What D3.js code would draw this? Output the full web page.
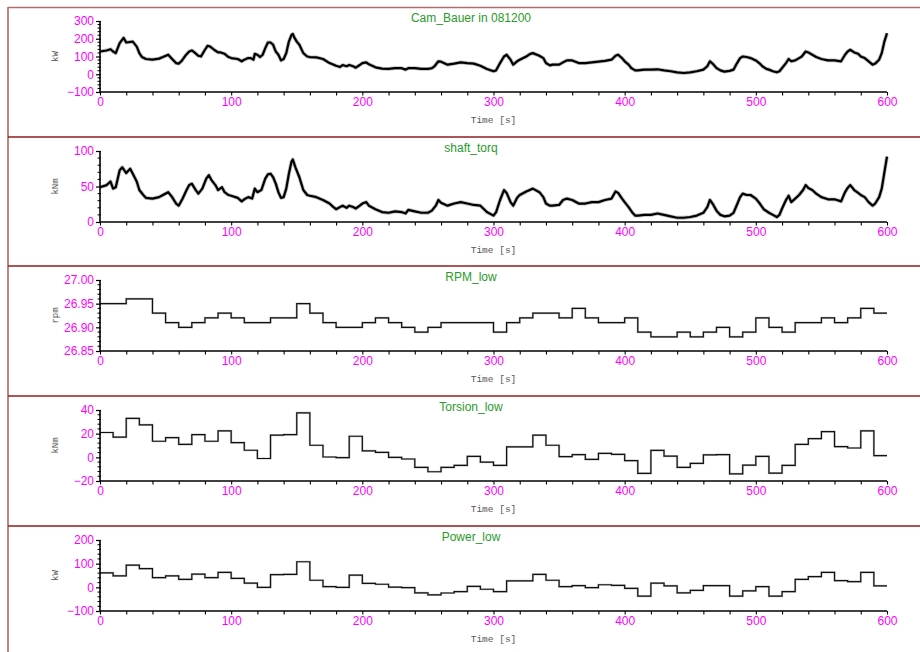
<!DOCTYPE html>
<html>
<head>
<meta charset="utf-8">
<script src="https://cdn.jsdelivr.net/npm/d3@7/dist/d3.min.js"></script>
<style>
  html, body { margin: 0; padding: 0; background: #fff; }
  svg { display: block; }
</style>
</head>
<body>
<svg id="chart" width="920" height="652"></svg>
<script>
// Cam_Bauer power trace [kW]
const camTime  = [0,5,8,10,12,15,18,20,25,28,30,32,35,40,45,48,52,55,58,60,62,65,68,70,72,75,77,80,82,84,87,90,92,95,98,100,105,108,110,113,115,117,118,120,122,124,126,128,130,132,134,136,138,140,142,144,146,147,148,150,152,155,158,160,165,170,175,180,183,185,188,190,193,195,198,200,203,205,210,215,220,225,230,233,235,240,245,250,253,255,258,260,265,270,275,280,285,290,295,300,302,305,308,310,313,315,318,320,325,328,330,335,338,340,343,345,350,353,356,360,365,370,375,380,385,390,393,395,398,400,403,405,408,410,415,420,425,430,435,440,445,450,455,460,463,465,467,470,473,476,480,483,485,488,490,493,496,500,503,505,508,510,513,516,518,520,523,525,527,530,533,535,538,540,543,546,550,555,560,565,568,570,572,575,578,580,583,586,589,591,594,596,598,600];
const camPower = [128,134,141,128,119,175,205,179,184,156,119,97,86,82,88,97,110,86,63,60,73,104,128,134,123,104,100,138,160,156,138,123,123,115,97,91,86,73,82,91,91,82,115,110,97,110,147,179,179,166,128,110,78,86,119,184,222,227,209,184,166,119,100,97,95,86,63,48,41,52,45,52,45,37,52,63,67,56,39,32,30,34,34,26,34,34,30,30,34,45,73,71,54,60,67,63,60,48,30,17,22,63,100,110,82,54,73,82,100,115,119,104,91,63,50,54,54,67,78,78,63,63,67,71,75,82,104,110,91,73,54,35,22,22,26,26,28,22,17,11,7,11,17,26,45,73,60,35,22,15,19,26,54,91,100,97,91,78,60,45,30,26,17,11,17,35,63,86,73,78,91,100,128,123,110,97,86,78,78,73,110,128,138,123,115,100,91,73,54,60,82,119,184,231];

// shaft_torq trace [kNm]
const torqTime  = [0,5,8,10,12,15,17,20,23,25,28,30,33,35,40,45,48,52,55,58,60,63,66,68,70,73,75,78,81,83,85,88,90,93,95,98,100,105,108,110,113,116,118,120,123,126,128,130,132,134,136,138,140,142,144,146,147,149,152,155,158,160,165,170,175,178,180,183,185,188,190,193,195,198,200,203,205,210,215,220,225,230,233,235,240,245,250,253,256,258,260,265,270,275,280,285,290,295,300,302,305,308,310,313,315,318,320,325,330,335,338,340,343,345,350,353,356,360,365,370,375,380,385,390,393,395,398,400,403,406,408,410,415,420,425,430,435,440,445,450,455,460,463,465,467,470,473,476,480,483,486,488,490,493,496,500,503,506,510,513,516,518,520,523,525,527,530,533,536,538,540,543,546,550,555,560,565,568,570,572,575,578,580,583,586,589,591,594,596,598,600];
const torqValue = [49,52,57,47,49,73,77,69,75,68,57,45,38,34,33,35,38,42,35,26,23,33,45,52,54,45,40,47,61,66,59,52,45,49,42,38,37,34,29,32,35,33,47,42,45,61,67,68,63,54,42,34,35,47,68,85,88,77,63,45,38,37,35,31,26,21,18,21,23,20,23,21,19,23,26,28,23,18,14,13,15,14,12,17,15,13,13,16,23,31,27,23,26,28,26,24,23,14,9,14,31,45,41,28,23,34,38,43,47,42,35,26,23,23,24,31,33,31,26,26,28,28,31,33,43,41,33,28,21,13,9,9,10,10,12,10,8,6,6,7,9,13,21,31,26,16,10,8,9,13,26,35,40,38,38,33,26,18,13,10,7,10,19,31,37,28,33,38,45,52,48,45,40,35,32,32,29,42,48,52,45,41,38,35,28,23,26,35,47,70,92];

// 10 s low-rate channels: start of each interval
const lowTime = d3.range(0, 600, 10);
const rpmLow = [26.95,26.95,26.96,26.96,26.93,26.91,26.90,26.91,26.92,26.93,
                26.92,26.91,26.91,26.92,26.92,26.95,26.93,26.91,26.90,26.90,
                26.91,26.92,26.91,26.90,26.89,26.90,26.91,26.91,26.91,26.91,
                26.89,26.91,26.92,26.93,26.93,26.92,26.94,26.92,26.91,26.91,
                26.92,26.89,26.88,26.88,26.89,26.88,26.89,26.90,26.88,26.89,
                26.92,26.90,26.89,26.91,26.91,26.92,26.91,26.92,26.94,26.93];
const torsionLow = [21,17,33,27.5,13.6,16.7,11,19.2,13.6,22.4,
                    12.5,6,-1,18.7,19.2,37.6,10.2,0.3,-0.3,17.8,
                    5.4,4.2,0,-1.4,-8.5,-12.2,-8.5,-6.8,0.8,-4,
                    -6.8,8.8,8.8,18.7,10.2,0.6,2.3,-1.7,3.4,2.5,
                    -2.8,-13.6,5.9,1.1,-8.5,-5.1,2,2.3,-13.9,-6.5,
                    0.8,-13.3,-6.8,11,15.8,21.8,9.1,7.9,22.4,1.4];
const powerLow = [61,48,94,79,41,48,34,56,41,63,
                  38,18,0,54,55,108,30,3,0,52,
                  17,13,1,-1,-23,-32,-24,-18,4,-8,
                  -18,27,27,55,30,3,7,-1,11,8,
                  -4,-37,18,6,-23,-13,7,7,-37,-15,
                  3,-37,-18,34,45,63,28,24,63,6];

// Panel titles, units and y-axis ticks
const titles = ["Cam_Bauer in 081200", "shaft_torq", "RPM_low", "Torsion_low", "Power_low"];
const units  = ["kW", "kNm", "rpm", "kNm", "kW"];
const yTicks = [
  [-100, 0, 100, 200, 300],
  [0, 50, 100],
  [26.85, 26.90, 26.95, 27.00],
  [-20, 0, 20, 40],
  [-100, 0, 100, 200]
];
const xTicks = [0, 100, 200, 300, 400, 500, 600];
const xLabel = "Time [s]";

const svg = d3.select("#chart");
const W = 920, H = 652;
const panelTops = [7, 137, 266, 396, 526];
const plotLeft = 100, plotRight = 887;

const x = d3.scaleLinear().domain([0, 600]).range([plotLeft, plotRight]);

function fmtFor(i) {
  return i === 2 ? d3.format(".2f") : d3.format("d");
}

const series = [
  { kind: "trace", t: camTime, v: camPower },
  { kind: "trace", t: torqTime, v: torqValue },
  { kind: "step", t: lowTime, v: rpmLow },
  { kind: "step", t: lowTime, v: torsionLow },
  { kind: "step", t: lowTime, v: powerLow }
];

series.forEach((s, i) => {
  const top = panelTops[i];
  const y0 = top + 85, y1 = top + 14;
  const ticks = yTicks[i];
  const y = d3.scaleLinear().domain([ticks[0], ticks[ticks.length - 1]]).range([y0, y1]);
  const g = svg.append("g");

  // data line
  const pts = s.t.map((t, k) => [t, s.v[k]]);
  if (s.kind === "step") {
    pts.push([600, s.v[s.v.length - 1]]);
    const line = d3.line().x(d => x(d[0])).y(d => y(d[1])).curve(d3.curveStepAfter);
    g.append("path").attr("d", line(pts)).attr("fill", "none")
      .attr("stroke", "#999").attr("stroke-width", 2.2).attr("opacity", 0.6);
    g.append("path").attr("d", line(pts)).attr("fill", "none")
      .attr("stroke", "#111").attr("stroke-width", 1.2);
  } else {
    const line = d3.line().x(d => x(d[0])).y(d => y(d[1]));
    g.append("path").attr("d", line(pts)).attr("fill", "none")
      .attr("stroke", "#777").attr("stroke-width", 3.8).attr("opacity", 0.5)
      .attr("stroke-linejoin", "round");
    g.append("path").attr("d", line(pts)).attr("fill", "none")
      .attr("stroke", "#000").attr("stroke-width", 2.2).attr("stroke-linejoin", "round");
  }

  // y axis: line, major ticks, minor ticks
  const yAxis = d3.axisLeft(y).tickValues(ticks).tickSize(4).tickPadding(2).tickFormat(fmtFor(i));
  const ya = g.append("g").attr("transform", `translate(${plotLeft},0)`).call(yAxis);
  ya.select(".domain").attr("stroke", "#000").attr("stroke-width", 1.6).attr("d", `M0,${y0}V${y1}`);
  ya.selectAll(".tick line").attr("stroke", "#000").attr("stroke-width", 1.2).attr("x2", -4).attr("x1", 1);
  ya.selectAll(".tick text").attr("fill", "#ff00ff")
    .style("font-family", "'Liberation Sans', Arial, sans-serif").style("font-size", "12px");
  const step = (ticks[1] - ticks[0]) / 5;
  const minor = [];
  for (let k = 0; k < ticks.length - 1; k++) {
    for (let m = 1; m < 5; m++) minor.push(ticks[k] + m * step);
  }
  g.selectAll(null).data(minor).enter().append("line")
    .attr("x1", plotLeft - 2.5).attr("x2", plotLeft + 1)
    .attr("y1", d => y(d)).attr("y2", d => y(d))
    .attr("stroke", "#000").attr("stroke-width", 1);

  // x axis with 20 s ticks
  const xAxis = d3.axisBottom(x).tickValues(d3.range(0, 601, 20)).tickSize(3.5).tickPadding(1.5)
    .tickFormat(d => (xTicks.includes(d) ? d : ""));
  const xa = g.append("g").attr("transform", `translate(0,${y0})`).call(xAxis);
  xa.select(".domain").attr("stroke", "#000").attr("stroke-width", 1.6).attr("d", `M${plotLeft},0H${plotRight}`);
  xa.selectAll(".tick line").attr("stroke", "#000").attr("stroke-width", 1.1);
  xa.selectAll(".tick text").attr("fill", "#ff00ff")
    .style("font-family", "'Liberation Sans', Arial, sans-serif").style("font-size", "12px");

  // axis titles
  g.append("text").attr("x", (plotLeft + plotRight) / 2).attr("y", top + 116)
    .attr("text-anchor", "middle").attr("fill", "#555")
    .style("font-family", "'Liberation Mono', 'DejaVu Sans Mono', monospace").style("font-size", "9.5px")
    .text(xLabel);
  g.append("text").attr("transform", `translate(${58},${(y0 + y1) / 2}) rotate(-90)`)
    .attr("text-anchor", "middle").attr("fill", "#555")
    .style("font-family", "'Liberation Mono', 'DejaVu Sans Mono', monospace").style("font-size", "9px")
    .text(units[i]);

  // panel title
  g.append("text").attr("x", 471).attr("y", top + 15)
    .attr("text-anchor", "middle").attr("fill", "#2a9a2a")
    .style("font-family", "'Liberation Sans', Arial, sans-serif").style("font-size", "12px")
    .text(titles[i]);
});

// panel frame: top edge, left edge and separators
svg.append("line").attr("x1", 8).attr("x2", W).attr("y1", 7.5).attr("y2", 7.5)
  .attr("stroke", "#b46a6a").attr("stroke-width", 1.5);
svg.append("line").attr("x1", 8).attr("x2", 8).attr("y1", 7).attr("y2", H)
  .attr("stroke", "#b87878").attr("stroke-width", 1.8);
panelTops.slice(1).forEach(t => {
  svg.append("line").attr("x1", 8).attr("x2", W).attr("y1", t).attr("y2", t)
    .attr("stroke", "#8e1e1e").attr("stroke-width", 1.4);
});
</script>
</body>
</html>
